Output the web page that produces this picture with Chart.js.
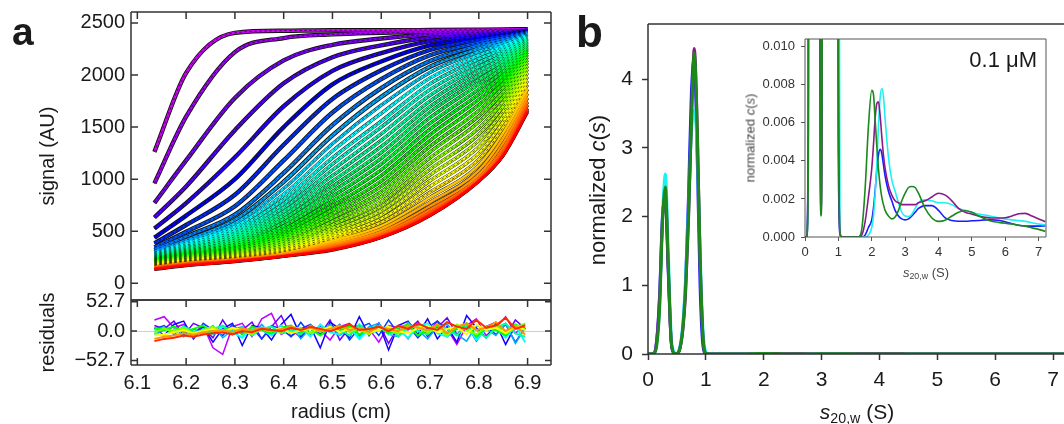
<!DOCTYPE html>
<html>
<head>
<meta charset="utf-8">
<script src="https://cdn.jsdelivr.net/npm/chart.js@4.4.1/dist/chart.umd.min.js"></script>
<style>
  body { margin: 0; background: #fff; width: 1064px; height: 424px; overflow: hidden; position: relative;
         font-family: "Liberation Sans", Arial, Helvetica, sans-serif; color: #1a1a1a; }
  .box { position: absolute; }
  .lbl { position: absolute; white-space: nowrap; line-height: 1; }
  .rot { transform: translate(-50%, -50%) rotate(-90deg); }
  .ctr { transform: translate(-50%, -50%); }
  sub { font-size: 0.68em; vertical-align: -0.3em; line-height: 0; }
</style>
</head>
<body>
<div class="box" style="left:0;top:0;width:560px;height:302px"><canvas id="scans"></canvas></div>
<div class="box" style="left:0;top:270px;width:560px;height:154px"><canvas id="resid"></canvas></div>
<div class="box" style="left:560px;top:0;width:504px;height:424px"><canvas id="cs"></canvas></div>
<div class="box" style="left:740px;top:30px;width:324px;height:260px"><canvas id="inset"></canvas></div>

<div class="lbl" style="left:12px;top:12px;font-size:39px;font-weight:bold">a</div>
<div class="lbl" style="left:576px;top:10px;font-size:44px;font-weight:bold">b</div>
<div class="lbl rot" style="left:598px;top:190px;font-size:22px">normalized <i>c</i>(<i>s</i>)</div>
<div class="lbl ctr" style="left:857px;top:411px;font-size:21px"><i>s</i><sub>20,w</sub> (S)</div>
<div class="lbl rot" style="left:750px;top:138px;font-size:13px;color:#444">normalized <i>c</i>(<i>s</i>)</div>
<div class="lbl ctr" style="left:926px;top:272px;font-size:13px;color:#444"><i>s</i><sub>20,w</sub> (S)</div>
<div class="lbl" style="right:27px;top:49px;font-size:22px">0.1 μM</div>

<script>
// ---- panel a: radial scans (signal vs radius), early scans first ----
const scanRadius = [6.135, 6.2, 6.3, 6.4, 6.5, 6.6, 6.7, 6.8, 6.85, 6.9];
const scanSignal = [
  [1262, 2020, 2405, 2425, 2430, 2430, 2432, 2435, 2437, 2440],
  [960, 1600, 2220, 2355, 2390, 2405, 2415, 2425, 2430, 2438],
  [772, 1180, 1780, 2140, 2290, 2350, 2390, 2410, 2420, 2435],
  [632, 930, 1470, 1920, 2170, 2285, 2360, 2395, 2410, 2432],
  [526, 770, 1210, 1700, 2040, 2210, 2325, 2378, 2400, 2428],
  [439, 650, 1000, 1500, 1910, 2130, 2285, 2358, 2388, 2424],
  [384, 560, 850, 1330, 1770, 2045, 2240, 2335, 2374, 2419],
  [345, 495, 740, 1180, 1640, 1960, 2190, 2310, 2358, 2413],
  [320, 450, 660, 1060, 1520, 1875, 2135, 2283, 2340, 2406],
  [300, 415, 610, 975, 1420, 1790, 2080, 2254, 2320, 2398],
  [292, 395, 575, 910, 1340, 1710, 2025, 2223, 2298, 2389],
  [285, 380, 545, 855, 1270, 1632, 1970, 2190, 2275, 2379],
  [278, 366, 518, 808, 1205, 1557, 1915, 2155, 2250, 2368],
  [271, 353, 494, 765, 1145, 1500, 1860, 2118, 2224, 2356],
  [264, 341, 470, 725, 1088, 1435, 1805, 2080, 2196, 2343],
  [257, 330, 448, 688, 1033, 1372, 1750, 2040, 2167, 2329],
  [251, 319, 427, 652, 980, 1312, 1697, 1998, 2136, 2314],
  [245, 309, 406, 618, 930, 1255, 1645, 1955, 2104, 2298],
  [240, 300, 387, 584, 882, 1200, 1590, 1910, 2070, 2280],
  [234, 291, 370, 550, 835, 1145, 1535, 1863, 2035, 2261],
  [229, 283, 354, 519, 790, 1090, 1480, 1815, 1998, 2241],
  [223, 275, 340, 490, 747, 1035, 1425, 1765, 1960, 2219],
  [218, 267, 327, 463, 706, 982, 1370, 1713, 1920, 2196],
  [213, 260, 315, 438, 667, 930, 1315, 1660, 1879, 2171],
  [207, 253, 304, 415, 630, 880, 1260, 1605, 1836, 2145],
  [202, 246, 294, 394, 595, 832, 1205, 1548, 1792, 2117],
  [197, 240, 285, 375, 562, 785, 1150, 1490, 1746, 2087],
  [192, 234, 276, 358, 531, 740, 1095, 1430, 1699, 2055],
  [187, 228, 268, 342, 502, 698, 1040, 1370, 1651, 2021],
  [182, 222, 260, 328, 475, 658, 985, 1310, 1601, 1985],
  [177, 216, 253, 315, 450, 620, 930, 1250, 1550, 1947],
  [172, 211, 246, 303, 427, 585, 875, 1190, 1498, 1907],
  [168, 206, 240, 293, 406, 552, 825, 1135, 1446, 1865],
  [163, 201, 234, 284, 387, 523, 780, 1085, 1395, 1822],
  [158, 196, 229, 277, 370, 497, 740, 1045, 1346, 1780],
  [153, 191, 224, 271, 356, 476, 708, 1015, 1300, 1742],
  [148, 186, 220, 266, 343, 460, 684, 997, 1262, 1712],
  [144, 181, 216, 263, 333, 450, 668, 988, 1240, 1680],
  [140, 176, 213, 261, 326, 444, 657, 983, 1232, 1662],
  [135, 170, 210, 260, 320, 440, 650, 980, 1228, 1645]
];
const signalTicks = [0, 500, 1000, 1500, 2000, 2500];
const signalTickLabels = ['0', '500', '1000', '1500', '2000', '2500'];
const radiusTicks = [6.1, 6.2, 6.3, 6.4, 6.5, 6.6, 6.7, 6.8, 6.9];
const radiusTickLabels = ['6.1', '6.2', '6.3', '6.4', '6.5', '6.6', '6.7', '6.8', '6.9'];

// residuals, a few scans picked across the run (purple ... red)
const residRadius = [6.135, 6.155, 6.175, 6.195, 6.215, 6.235, 6.255, 6.275, 6.295, 6.315,
  6.335, 6.355, 6.375, 6.395, 6.415, 6.435, 6.455, 6.475, 6.495, 6.515,
  6.535, 6.555, 6.575, 6.595, 6.615, 6.635, 6.655, 6.675, 6.695, 6.715,
  6.735, 6.755, 6.775, 6.795, 6.815, 6.835, 6.855, 6.875, 6.895];
const residHues = [285, 265, 245, 225, 200, 180, 155, 120, 90, 60, 35, 10];
const residValues = [
  [20, 26, 6, 12, -4, 10, -30, -42, 8, 14, -10, 22, 32, -6, 4, -12, 10, 2, -16, 8, 14, -8, 4, -20, 10, 6, -14, 12, -6, 18, 4, -24, 10, 22, -8, 6, 26, -4, 12],
  [10, 4, 18, -8, 14, 6, -12, 20, -6, 2, 16, -14, 8, 28, -10, 4, 12, -6, 20, -16, 6, 10, -4, 14, -22, 8, 2, 18, -10, 6, 24, -6, 12, -18, 8, 16, -10, 20, 4],
  [6, -8, 12, 18, -14, 8, -20, 4, 14, -26, 10, 6, -16, 12, 30, -10, 8, -30, 16, 4, -12, 26, -8, 14, -34, 10, 18, -6, 22, -14, 8, -20, 28, 6, -12, 14, -24, 10, 2],
  [4, 10, -6, 8, -12, 14, 2, -8, 12, -4, 6, -14, 10, 4, -10, 16, -6, 8, -2, 12, -16, 6, 14, -8, 20, -4, 10, -12, 6, 18, -10, 4, 14, -16, 8, -6, 12, -20, 6],
  [-6, 2, 8, -10, 4, -4, 10, -12, 2, 8, -6, 12, -8, 4, 10, -14, 6, -2, 12, -8, 4, -12, 8, 14, -6, -10, 16, 2, -14, 8, 12, -6, -18, 10, 4, -8, 14, -22, 6],
  [-4, -8, 2, 6, -10, 4, -6, 8, -2, -12, 6, 2, -8, 10, -4, 6, -10, 12, -2, -6, 8, -14, 4, 10, -6, 2, -12, 8, 14, -4, -10, 6, 12, -16, 4, 8, -12, 10, -20],
  [2, 6, -4, 8, 0, -6, 4, 10, -2, 6, -8, 4, 8, -4, 2, -6, 10, -2, 6, 4, -8, 12, -4, 2, 8, -10, 6, 0, -6, 12, 4, -8, 10, 2, -12, 6, 14, -4, -10],
  [6, 2, 8, -2, 4, 10, -4, 2, 6, -6, 8, 2, -4, 6, 10, -2, 4, -8, 6, 2, 10, -6, 4, 8, -4, 6, 12, -8, 2, 10, -6, 4, 14, -10, 6, 2, -8, 12, 4],
  [-2, 4, 0, 6, -4, 2, 8, -2, 4, 0, -6, 6, 2, -2, 8, 4, -4, 6, 0, 10, -2, 4, -6, 8, 2, -4, 10, 6, -2, 4, -8, 12, 2, -6, 8, 10, -4, 6, 14],
  [-8, -6, -2, 2, -4, 0, 4, -2, 6, 2, -2, 4, 0, 6, -4, 2, 4, 0, 8, -2, 4, 6, -2, 2, 8, 0, -4, 6, 10, -2, 4, 8, -6, 12, 2, 6, -4, 10, 2],
  [-14, -10, -8, -4, -6, -2, 0, 2, -2, 4, 2, 6, 0, 4, 8, 2, 6, 0, 4, 10, 2, 6, -2, 8, 4, 0, 10, 6, 2, 12, -4, 8, 14, 2, 6, 16, 0, 10, -6],
  [-18, -14, -12, -8, -10, -6, -4, -2, -6, 0, -2, 4, 2, 0, 6, 2, 8, 4, 0, 6, 12, 2, 4, 8, 0, 10, 4, 14, 6, 2, 16, 8, 4, 20, 6, 10, 24, 4, 10]
];
const residTicks = [-52.7, 0, 52.7];
const residTickLabels = ['\u221252.7', '0.0', '52.7'];

// ---- panel b: c(s) distributions ----
const sedCoef = [0, 0.05, 0.1, 0.15, 0.2, 0.25, 0.3, 0.35, 0.4, 0.45,
  0.48, 0.51, 0.55, 0.6, 0.65, 0.7, 0.75, 0.8, 0.85, 0.9,
  0.95, 1.0, 1.05, 1.1, 1.3, 1.5, 1.6, 1.7, 1.8, 1.9,
  2.0, 2.05, 2.1, 2.15, 2.2, 2.25, 2.3, 2.35, 2.4, 2.5,
  2.6, 2.7, 2.8, 2.9, 3.0, 3.1, 3.2, 3.3, 3.4, 3.6,
  3.8, 4.0, 4.2, 4.4, 4.6, 4.8, 5.0, 5.2, 5.4, 5.6,
  5.8, 6.0, 6.2, 6.4, 6.6, 6.8, 7.0, 7.2];
const csGreen = [0, 0, 0.004, 0.12, 0.65, 1.9, 2.43, 1.3, 0.2, 0.012,
  0.0011, 0.008, 0.07, 0.35, 0.95, 2.0, 3.4, 4.38, 3.3, 1.4,
  0.25, 0.008, 0.0002, 0, 0, 0, 0, 0.0004, 0.0025, 0.0058,
  0.0077, 0.0075, 0.0062, 0.0048, 0.0036, 0.0027, 0.0021, 0.0017, 0.0014, 0.0011,
  0.00095, 0.00105, 0.0014, 0.0019, 0.0023, 0.0026, 0.00265, 0.0026, 0.0023, 0.0015,
  0.001, 0.00082, 0.00088, 0.0011, 0.0013, 0.00138, 0.0013, 0.0011, 0.00095, 0.00083,
  0.00077, 0.00072, 0.00068, 0.00062, 0.00056, 0.00048, 0.0004, 0.0003];
const csPurple = [0, 0, 0.006, 0.18, 0.8, 1.95, 2.3, 1.25, 0.2, 0.012,
  0.0012, 0.008, 0.07, 0.33, 0.9, 1.95, 3.4, 4.45, 3.35, 1.4,
  0.25, 0.009, 0.0002, 0, 0, 0, 0, 0.0001, 0.0008, 0.0021,
  0.0036, 0.0048, 0.0062, 0.007, 0.0071, 0.0064, 0.0053, 0.0043, 0.0036, 0.0027,
  0.0022, 0.0019, 0.0018, 0.0017, 0.0017, 0.0017, 0.0017, 0.0017, 0.0018, 0.0019,
  0.0021, 0.0023, 0.0022, 0.0019, 0.0015, 0.0013, 0.0012, 0.0011, 0.00103, 0.001,
  0.001, 0.00101, 0.0011, 0.00122, 0.00124, 0.0011, 0.00095, 0.0008];
const csCyan = [0, 0, 0.005, 0.15, 0.7, 2.0, 2.62, 1.5, 0.28, 0.03,
  0.002, 0.015, 0.1, 0.42, 1.1, 2.1, 3.2, 3.55, 3.0, 1.5,
  0.35, 0.03, 0.0003, 0, 0, 0, 0, 0, 0, 0.0001,
  0.0005, 0.0011, 0.0022, 0.0038, 0.0058, 0.0073, 0.0078, 0.0074, 0.0062, 0.0042,
  0.003, 0.0024, 0.0018, 0.0013, 0.0011, 0.00108, 0.0012, 0.0015, 0.0018, 0.00195,
  0.0019, 0.0018, 0.0018, 0.0017, 0.0015, 0.0014, 0.0013, 0.0012, 0.00115, 0.00108,
  0.001, 0.00095, 0.0009, 0.00086, 0.00082, 0.00075, 0.00068, 0.00064];
const csBlue = [0, 0, 0.008, 0.2, 0.85, 2.0, 2.25, 1.2, 0.18, 0.012,
  0.0015, 0.01, 0.08, 0.38, 1.05, 2.3, 3.8, 4.3, 2.9, 1.0,
  0.12, 0.004, 0.0001, 0, 0, 0, 0, 0, 0.0001, 0.0005,
  0.0009, 0.0015, 0.0024, 0.0035, 0.0043, 0.0046, 0.0044, 0.0038, 0.0032, 0.0024,
  0.0019, 0.0014, 0.0011, 0.00095, 0.0009, 0.00095, 0.0011, 0.0013, 0.0015, 0.00165,
  0.00165, 0.0014, 0.001, 0.00087, 0.00083, 0.00083, 0.00085, 0.00087, 0.0009, 0.0009,
  0.00088, 0.0008, 0.0007, 0.00062, 0.00058, 0.00057, 0.00057, 0.00058];
const csTicksX = [0, 1, 2, 3, 4, 5, 6, 7];
const csTicksY = [0, 1, 2, 3, 4];
const insetTicksY = [0, 0.002, 0.004, 0.006, 0.008, 0.010];
const insetTickLabels = ['0.000', '0.002', '0.004', '0.006', '0.008', '0.010'];

Chart.defaults.font.family = '"Liberation Sans", Arial, Helvetica, sans-serif';
Chart.defaults.color = '#1a1a1a';
Chart.defaults.animation = false;
Chart.defaults.events = [];
Chart.defaults.maintainAspectRatio = false;
Chart.defaults.plugins.legend.display = false;
Chart.defaults.plugins.tooltip.enabled = false;
Chart.defaults.elements.point.radius = 0;

// box around the plot area plus inward tick marks
function makeFrame(cfg) {
  return {
    id: 'frame',
    afterDatasetsDraw(chart) {
      const { ctx, chartArea: a } = chart;
      const seg = (x1, y1, x2, y2) => { ctx.moveTo(x1, y1); ctx.lineTo(x2, y2); };
      ctx.save();
      ctx.strokeStyle = cfg.color;
      ctx.lineWidth = cfg.width;
      ctx.beginPath();
      cfg.sides.forEach(s => {
        if (s === 'top') seg(a.left, a.top, a.right, a.top);
        if (s === 'bottom') seg(a.left, a.bottom, a.right, a.bottom);
        if (s === 'left') seg(a.left, a.top, a.left, a.bottom);
        if (s === 'right') seg(a.right, a.top, a.right, a.bottom);
      });
      (cfg.inTicks || []).forEach(t => {
        const sc = chart.scales[t.axis];
        t.values.forEach(v => {
          const p = sc.getPixelForValue(v);
          t.sides.forEach(s => {
            if (s === 'top') seg(p, a.top, p, a.top + t.len);
            if (s === 'bottom') seg(p, a.bottom, p, a.bottom - t.len);
            if (s === 'left') seg(a.left, p, a.left + t.len, p);
            if (s === 'right') seg(a.right, p, a.right - t.len, p);
          });
        });
      });
      ctx.stroke();
      ctx.restore();
    }
  };
}

const useTicks = values => s => { s.ticks = values.map(v => ({ value: v })); };
const fixWidth = w => s => { s.width = w; s.paddingTop = 0; s.paddingBottom = 0; };
const fixHeight = h => s => { s.height = h; s.paddingLeft = 0; s.paddingRight = 0; };

// rainbow: magenta for the first scan, red for the last
const hueStops = [[0, 290], [5, 240], [11, 180], [21, 120], [30, 60], [39, 0]];
function hueAt(i) {
  for (let k = 1; k < hueStops.length; k++) {
    const [i0, h0] = hueStops[k - 1], [i1, h1] = hueStops[k];
    if (i <= i1) return h0 + (h1 - h0) * (i - i0) / (i1 - i0);
  }
  return 0;
}

// ---------- scans ----------
const scanSets = [];
scanSignal.forEach((row, i) => {
  const pts = row.map((v, j) => ({ x: scanRadius[j], y: v }));
  scanSets.push({ data: pts, borderColor: '#111', borderWidth: i < 10 ? 4.4 : 3.4, order: 3,
                  cubicInterpolationMode: 'monotone' });
  scanSets.push({ data: pts, borderColor: `hsl(${hueAt(i)},100%,50%)`, borderWidth: 2.5,
                  order: 2 + (scanSignal.length - i) * 0.001, cubicInterpolationMode: 'monotone' });
  if (i < 32) {
    scanSets.push({ data: pts, borderColor: 'rgba(0,0,0,0.75)', borderWidth: 0.8, borderDash: [2.5, 2.5],
                    order: 1, cubicInterpolationMode: 'monotone' });
  }
});

new Chart(document.getElementById('scans'), {
  type: 'line',
  data: { datasets: scanSets },
  options: {
    layout: { padding: { top: 12, right: 9, bottom: 2, left: 0 } },
    scales: {
      x: { type: 'linear', display: false, min: 6.087, max: 6.948 },
      y: {
        min: -160, max: 2605,
        afterBuildTicks: useTicks(signalTicks),
        afterFit: fixWidth(131),
        grid: { display: false, drawTicks: false },
        border: { display: false },
        ticks: { padding: 6, font: { size: 20 }, callback: (v, i) => signalTickLabels[i] },
        title: { display: true, text: 'signal (AU)', font: { size: 20 }, padding: { top: 36, bottom: 0 } }
      }
    }
  },
  plugins: [makeFrame({
    color: '#333', width: 1.5, sides: ['top', 'right', 'bottom', 'left'],
    inTicks: [
      { axis: 'x', values: radiusTicks, sides: ['top'], len: 7 },
      { axis: 'y', values: signalTicks, sides: ['left', 'right'], len: 7 }
    ]
  })]
});

// ---------- residuals ----------
const residSets = residValues.map((row, i) => ({
  data: row.map((v, j) => ({ x: residRadius[j], y: v })),
  borderColor: `hsl(${residHues[i]},100%,50%)`,
  borderWidth: i >= 5 ? 2 : 1.5,
  order: residValues.length - i
}));

new Chart(document.getElementById('resid'), {
  type: 'line',
  data: { datasets: residSets },
  options: {
    layout: { padding: { top: 30, right: 9, bottom: 0, left: 0 } },
    scales: {
      x: {
        type: 'linear', min: 6.087, max: 6.948,
        afterBuildTicks: useTicks(radiusTicks),
        afterFit: fixHeight(59),
        grid: { display: false, drawTicks: false },
        border: { display: false },
        ticks: { padding: 6, font: { size: 20 }, autoSkip: false, maxRotation: 0,
                 callback: (v, i) => radiusTickLabels[i] },
        title: { display: true, text: 'radius (cm)', font: { size: 20 }, padding: { top: 0, bottom: 0 } }
      },
      y: {
        min: -61, max: 56,
        afterBuildTicks: useTicks(residTicks),
        afterFit: fixWidth(131),
        grid: { drawTicks: false, color: c => (c.tick && c.tick.value === 0 ? '#cfcfcf' : 'rgba(0,0,0,0)') },
        border: { display: false },
        ticks: { padding: 6, font: { size: 20 }, callback: (v, i) => residTickLabels[i] },
        title: { display: true, text: 'residuals', font: { size: 20 }, padding: { top: 36, bottom: 0 } }
      }
    }
  },
  plugins: [makeFrame({
    color: '#333', width: 1.5, sides: ['top', 'right', 'bottom', 'left'],
    inTicks: [
      { axis: 'x', values: radiusTicks, sides: ['top', 'bottom'], len: 7 },
      { axis: 'y', values: residTicks, sides: ['left', 'right'], len: 6 }
    ]
  })]
});

// ---------- c(s) ----------
const csSeries = [
  { values: csGreen, color: '#1b8a1b' },
  { values: csPurple, color: '#8a1a8a' },
  { values: csCyan, color: '#1ff0f0' },
  { values: csBlue, color: '#1a1aff' }
];
const csSets = width => csSeries.map(s => ({
  data: s.values.map((v, j) => ({ x: sedCoef[j], y: v })),
  borderColor: s.color,
  borderWidth: width,
  cubicInterpolationMode: 'monotone'
}));

new Chart(document.getElementById('cs'), {
  type: 'line',
  data: { datasets: csSets(3) },
  options: {
    layout: { padding: { top: 24, right: 0, bottom: 0, left: 0 } },
    scales: {
      x: {
        type: 'linear', min: 0, max: 7.19,
        afterBuildTicks: useTicks(csTicksX),
        afterFit: fixHeight(70),
        grid: { drawOnChartArea: false, tickLength: 6, tickColor: '#333', tickWidth: 1.5 },
        border: { display: false },
        ticks: { padding: 8, font: { size: 21 }, autoSkip: false, maxRotation: 0 }
      },
      y: {
        min: 0, max: 4.805,
        afterBuildTicks: useTicks(csTicksY),
        afterFit: fixWidth(88),
        grid: { drawOnChartArea: false, tickLength: 6, tickColor: '#333', tickWidth: 1.5 },
        border: { display: false },
        ticks: { padding: 9, font: { size: 21 } }
      }
    }
  },
  plugins: [makeFrame({ color: '#333', width: 1.5, sides: ['top', 'left', 'bottom'] })]
});

// ---------- inset ----------
new Chart(document.getElementById('inset'), {
  type: 'line',
  data: { datasets: csSets(1.6) },
  options: {
    layout: { padding: { top: 9, right: 18, bottom: 0, left: 0 } },
    scales: {
      x: {
        type: 'linear', min: 0, max: 7.22,
        afterBuildTicks: useTicks(csTicksX),
        afterFit: fixHeight(53),
        grid: { drawOnChartArea: false, tickLength: 4, tickColor: '#555', tickWidth: 1 },
        border: { display: false },
        ticks: { padding: 4, color: '#333', font: { size: 13 }, autoSkip: false, maxRotation: 0 }
      },
      y: {
        min: 0, max: 0.0104,
        afterBuildTicks: useTicks(insetTicksY),
        afterFit: fixWidth(65),
        grid: { drawOnChartArea: false, tickLength: 4, tickColor: '#555', tickWidth: 1 },
        border: { display: false },
        ticks: { padding: 6, color: '#333', font: { size: 13 }, callback: (v, i) => insetTickLabels[i] }
      }
    }
  },
  plugins: [makeFrame({ color: '#555', width: 1, sides: ['top', 'right', 'bottom', 'left'] })]
});
</script>
</body>
</html>
